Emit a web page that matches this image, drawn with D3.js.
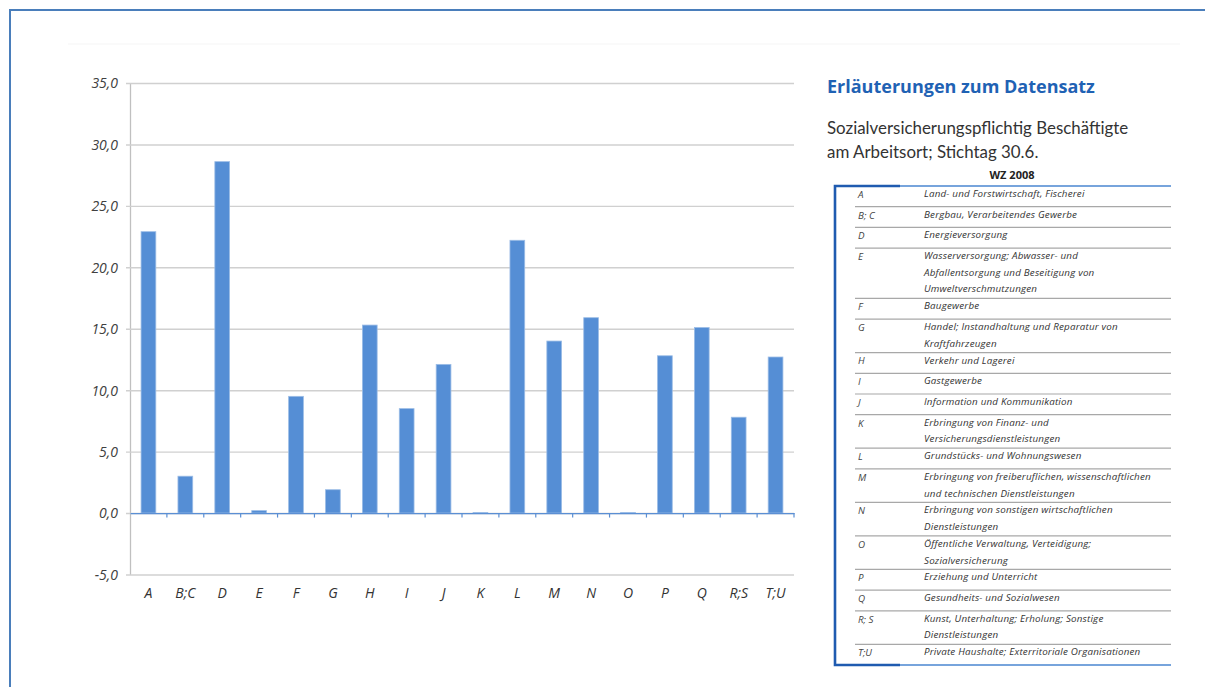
<!DOCTYPE html>
<html>
<head>
<meta charset="utf-8">
<script src="https://cdn.jsdelivr.net/npm/d3@7"></script>
<style>
  html, body { margin: 0; padding: 0; background: #fff; }
  svg { display: block; }
</style>
</head>
<body>
<svg id="chart" width="1205" height="687"></svg>
<script>
// ---------- data ----------
const categories = ["A","B;C","D","E","F","G","H","I","J","K","L","M","N","O","P","Q","R;S","T;U"];
const values     = [22.9, 3.0, 28.6, 0.2, 9.5, 1.9, 15.3, 8.5, 12.1, 0.05, 22.2, 14.0, 15.9, 0.05, 12.8, 15.1, 7.8, 12.7];
const yTicks     = [-5, 0, 5, 10, 15, 20, 25, 30, 35];

const panelTitle = "Erläuterungen zum Datensatz";
const panelText  = ["Sozialversicherungspflichtig Beschäftigte", "am Arbeitsort; Stichtag 30.6."];
const tableTitle = "WZ 2008";
const tableCodes = ["A","B; C","D","E","F","G","H","I","J","K","L","M","N","O","P","Q","R; S","T;U"];
const tableDescriptions = [
  ["Land- und Forstwirtschaft, Fischerei"],
  ["Bergbau, Verarbeitendes Gewerbe"],
  ["Energieversorgung"],
  ["Wasserversorgung; Abwasser- und", "Abfallentsorgung und Beseitigung von", "Umweltverschmutzungen"],
  ["Baugewerbe"],
  ["Handel; Instandhaltung und Reparatur von", "Kraftfahrzeugen"],
  ["Verkehr und Lagerei"],
  ["Gastgewerbe"],
  ["Information und Kommunikation"],
  ["Erbringung von Finanz- und", "Versicherungsdienstleistungen"],
  ["Grundstücks- und Wohnungswesen"],
  ["Erbringung von freiberuflichen, wissenschaftlichen", "und technischen Dienstleistungen"],
  ["Erbringung von sonstigen wirtschaftlichen", "Dienstleistungen"],
  ["Öffentliche Verwaltung, Verteidigung;", "Sozialversicherung"],
  ["Erziehung und Unterricht"],
  ["Gesundheits- und Sozialwesen"],
  ["Kunst, Unterhaltung; Erholung; Sonstige", "Dienstleistungen"],
  ["Private Haushalte; Exterritoriale Organisationen"]
];

// ---------- layout ----------
const svg = d3.select("#chart");
const plot = { left: 130, right: 794, top: 83, bottom: 574.5 };

// outer frame
svg.append("path")
  .attr("d", "M10,700 L10,10 L1215,10")
  .attr("fill", "none").attr("stroke", "#4a7ebb").attr("stroke-width", 2);
svg.append("line")
  .attr("x1", 68).attr("x2", 1180).attr("y1", 44).attr("y2", 44)
  .attr("stroke", "#f5f5f5").attr("stroke-width", 1);

const x = d3.scaleBand().domain(categories).range([plot.left, plot.right]).padding(0);
const y = d3.scaleLinear().domain([-5, 35]).range([plot.bottom, plot.top]);

const axisFont = "'Open Sans', 'DejaVu Sans', sans-serif";

// gridlines + y axis
const yAxis = d3.axisLeft(y).tickValues(yTicks)
  .tickSize(-(plot.right - plot.left)).tickSizeOuter(0)
  .tickFormat(d => d3.format(".1f")(d).replace(".", ",").replace("\u2212", "-"));
const gy = svg.append("g").attr("transform", `translate(${plot.left},0)`).call(yAxis);
gy.select(".domain").attr("stroke", "#c0c0c0").attr("stroke-width", 1.3);
gy.selectAll(".tick line").attr("stroke", "#d0d0d0").attr("stroke-width", 1.4)
  .attr("x1", -4);
gy.selectAll(".tick text")
  .attr("x", -12).attr("dy", "0.35em")
  .attr("font-family", axisFont).attr("font-style", "italic")
  .attr("font-size", 14).attr("fill", "#404040");

// bars
const barW = x.step() * 0.4;
svg.append("g").selectAll("rect").data(categories).join("rect")
  .attr("x", (d) => x(d) + (x.bandwidth() - barW) / 2)
  .attr("width", barW)
  .attr("y", (d, i) => y(Math.max(0, values[i])))
  .attr("height", (d, i) => Math.abs(y(values[i]) - y(0)))
  .attr("fill", "#558ed5")
  .attr("stroke", "#9cbde6").attr("stroke-width", 0.8);

// zero axis with category ticks
const xAxis = d3.axisBottom(x).tickSize(0).tickSizeOuter(0);
const gx = svg.append("g").attr("transform", `translate(0,${y(0)})`).call(xAxis);
gx.select(".domain").attr("stroke", "#5b8fd4").attr("stroke-width", 1.3);
gx.selectAll(".tick text").remove();
gx.selectAll(".boundary").data(categories).join("line")
  .attr("class", "boundary")
  .attr("x1", d => x(d) + x.step()).attr("x2", d => x(d) + x.step())
  .attr("y1", 0).attr("y2", 4.5)
  .attr("stroke", "#5b8fd4").attr("stroke-width", 1.2);

// category labels below the plot
svg.append("g").selectAll("text").data(categories).join("text")
  .attr("x", d => x(d) + x.bandwidth() / 2)
  .attr("y", plot.bottom + 23.5)
  .attr("text-anchor", "middle")
  .attr("font-family", axisFont).attr("font-style", "italic")
  .attr("font-size", 14).attr("fill", "#333")
  .text(d => d);

// ---------- right panel ----------
const panelFont = "Lato, 'Open Sans', sans-serif";
svg.append("text").attr("x", 827).attr("y", 93)
  .attr("font-family", "'Open Sans', sans-serif").attr("font-weight", 700)
  .attr("font-size", 18).attr("fill", "#1f62b4")
  .text(panelTitle);
svg.append("g").selectAll("text").data(panelText).join("text")
  .attr("x", 827).attr("y", (d, i) => 134 + i * 23.8)
  .attr("font-family", panelFont).attr("font-size", 16.9).attr("fill", "#333")
  .text(d => d);
svg.append("text").attr("x", 1012).attr("y", 179)
  .attr("text-anchor", "middle")
  .attr("font-family", "'Open Sans', sans-serif").attr("font-weight", 700)
  .attr("font-size", 11).attr("fill", "#222")
  .text(tableTitle);

// table
const tbl = { left: 835, sepLeft: 855, right: 1171, top: 186, codeX: 858, descX: 924 };
const rowH = { 1: 20.7, 2: 33.5, 3: 50.3 };
const lineStep = 16.6;
let yy = tbl.top;
const rows = tableCodes.map((c, i) => {
  const h = rowH[tableDescriptions[i].length];
  const r = { code: c, lines: tableDescriptions[i], top: yy, h };
  yy += h;
  return r;
});
const tblBottom = yy;

const tg = svg.append("g");
const tableFont = "'Open Sans', 'DejaVu Sans', sans-serif";
// separators
tg.selectAll("line.sep").data(rows.slice(0, -1)).join("line")
  .attr("class", "sep")
  .attr("x1", tbl.sepLeft).attr("x2", tbl.right)
  .attr("y1", d => d.top + d.h).attr("y2", d => d.top + d.h)
  .attr("stroke", "#a8a8a8").attr("stroke-width", 1.2);
// code text
tg.selectAll("text.code").data(rows).join("text")
  .attr("class", "code")
  .attr("x", tbl.codeX).attr("y", d => d.top + 11.8)
  .attr("font-family", tableFont).attr("font-style", "italic")
  .attr("font-size", 9.8).attr("fill", "#444")
  .text(d => d.code);
// description text
rows.forEach(r => {
  r.lines.forEach((l, j) => {
    tg.append("text")
      .attr("x", tbl.descX).attr("y", r.top + 11 + j * lineStep)
      .attr("font-family", tableFont).attr("font-style", "italic")
      .attr("font-size", 9.8).attr("letter-spacing", 0.2).attr("fill", "#333")
      .text(l);
  });
});
// borders
tg.append("line").attr("x1", 900).attr("x2", tbl.right).attr("y1", tbl.top).attr("y2", tbl.top)
  .attr("stroke", "#4a86d0").attr("stroke-width", 1.3);
tg.append("line").attr("x1", 900).attr("x2", tbl.right).attr("y1", tblBottom).attr("y2", tblBottom)
  .attr("stroke", "#4a86d0").attr("stroke-width", 1.3);
tg.append("path")
  .attr("d", `M900,${tbl.top} L${tbl.left},${tbl.top} L${tbl.left},${tblBottom} L900,${tblBottom}`)
  .attr("fill", "none").attr("stroke", "#1f5bb0").attr("stroke-width", 2.6);
</script>
</body>
</html>
